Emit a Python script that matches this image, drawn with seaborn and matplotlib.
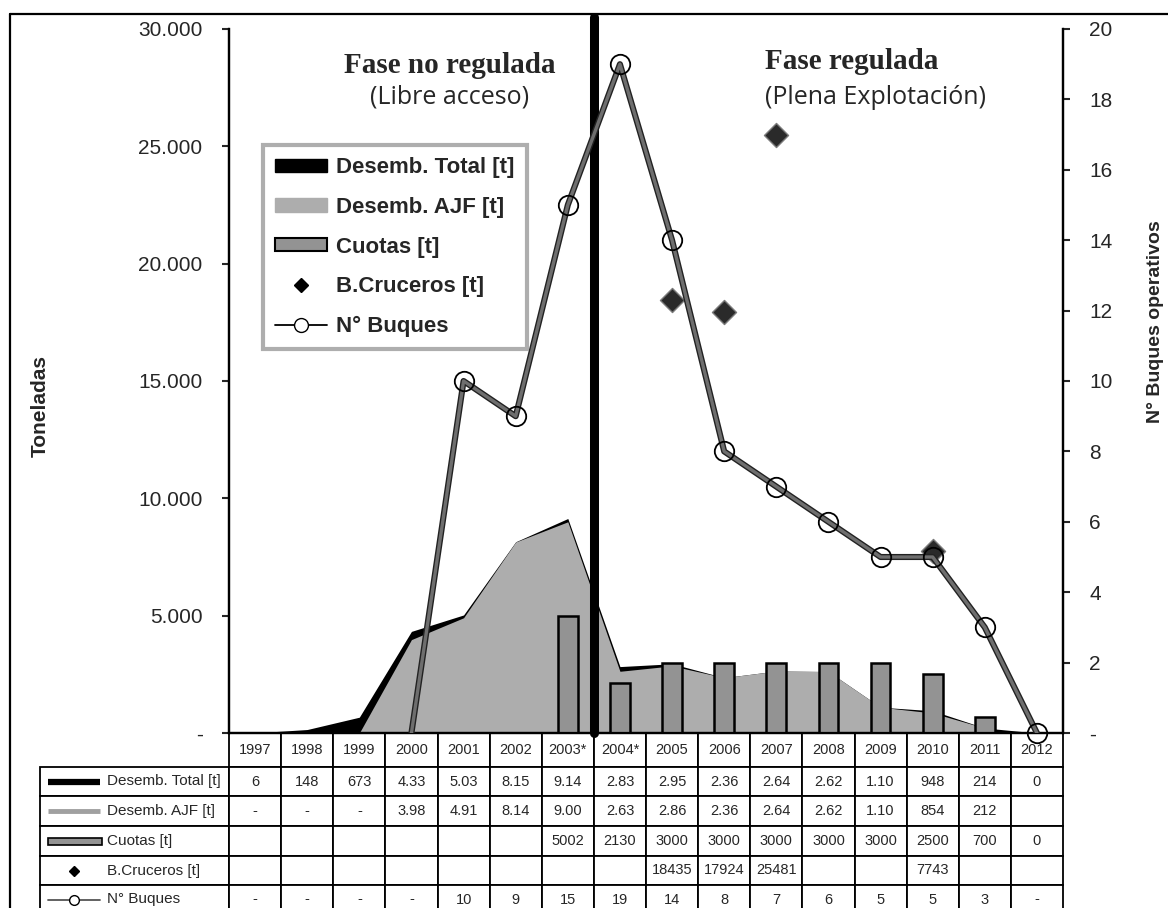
import numpy as np
import matplotlib
matplotlib.use("Agg")
import matplotlib.pyplot as plt
import seaborn as sns
from matplotlib.lines import Line2D
from matplotlib.patches import Patch, Rectangle

# ---------------------------------------------------------------- data
years = ["1997", "1998", "1999", "2000", "2001", "2002", "2003*", "2004*",
         "2005", "2006", "2007", "2008", "2009", "2010", "2011", "2012"]
desemb_total = [6, 148, 673, 4330, 5030, 8150, 9140, 2830,
                2950, 2360, 2640, 2620, 1100, 948, 214, 0]
desemb_ajf = [0, 0, 0, 3980, 4910, 8140, 9000, 2630,
              2860, 2360, 2640, 2620, 1100, 854, 212, np.nan]
cuotas = [np.nan] * 6 + [5002, 2130, 3000, 3000, 3000, 3000, 3000, 2500, 700, 0]
b_cruceros = [np.nan] * 8 + [18435, 17924, 25481, np.nan, np.nan, 7743, np.nan, np.nan]
n_buques = [np.nan, np.nan, np.nan, 0, 10, 9, 15, 19, 14, 8, 7, 6, 5, 5, 3, 0]

left_ticks = [0, 5000, 10000, 15000, 20000, 25000, 30000]
left_ticklabels = ["-", "5.000", "10.000", "15.000", "20.000", "25.000", "30.000"]
right_ticks = list(range(0, 21, 2))
right_ticklabels = ["-"] + [str(t) for t in right_ticks[1:]]

series_labels = ["Desemb. Total [t]", "Desemb. AJF [t]", "Cuotas [t]",
                 "B.Cruceros [t]", "N° Buques"]

# ---------------------------------------------------------------- style
sns.set_style("white")
plt.rcParams["font.family"] = ["Liberation Sans", "DejaVu Sans"]

W, H = 1168, 908
fig = plt.figure(figsize=(W / 100, H / 100), dpi=100)

AX_L, AX_R, AX_T, AX_B = 229, 1063, 29, 733
ax = fig.add_axes([AX_L / W, (H - AX_B) / H, (AX_R - AX_L) / W, (AX_B - AX_T) / H])
ax2 = ax.twinx()


def ax_x(px):
    return (px - AX_L) / (AX_R - AX_L)


def ax_y(py):
    return (AX_B - py) / (AX_B - AX_T)


x = np.arange(len(years))
AREA_GREY = "#adadad"
BAR_GREY = "#939393"

# landings as areas: total in black, AJF in grey in front of it
ax.fill_between(x, desemb_total, color="black", lw=0, zorder=1)
ax.fill_between(x, desemb_ajf, color=AREA_GREY, lw=0, zorder=2)

# quotas as narrow bars
sns.barplot(x=years, y=cuotas, order=years, ax=ax, width=0.38, color=BAR_GREY,
            saturation=1, edgecolor="black", linewidth=1.8, errorbar=None, zorder=3)

# acoustic-cruise biomass
sns.scatterplot(x=x, y=b_cruceros, ax=ax, marker="D", s=150, color="#2a2a2a",
                edgecolor="#7a7a7a", linewidth=1.0, zorder=5, legend=False)

# boundary between the unregulated and regulated phases
ax.axvline(6.5, ymin=0, ymax=ax_y(17), color="black", lw=6.5, clip_on=False, zorder=4)

# number of operating vessels (right axis)
nb = np.array(n_buques, dtype=float)
first = int(np.where(~np.isnan(nb))[0][0])
mark_idx = list(range(first + 1, len(nb)))
ax2.plot(x, nb, color="#222222", lw=4.4, solid_capstyle="round", zorder=6)
ax2.plot(x, nb, color="#6e6e6e", lw=2.4, solid_capstyle="round", zorder=7)
ax2.plot(x, nb, ls="none", marker="o", ms=14, mfc="none", mec="black", mew=1.3,
         markevery=mark_idx, zorder=8, clip_on=False)

# ---------------------------------------------------------------- axes
ax.set_xlim(-0.5, len(years) - 0.5)
ax.set_ylim(0, 30000)
ax2.set_ylim(0, 20)
ax.set_xticks([])
ax.set_xlabel("")
ax.set_ylabel("")
ax.set_yticks(left_ticks)
ax.set_yticklabels(left_ticklabels, fontsize=15)
ax2.set_yticks(right_ticks)
ax2.set_yticklabels(right_ticklabels, fontsize=15)
ax.tick_params(axis="y", direction="out", length=5, width=1.5, pad=14, left=True)
ax2.tick_params(axis="y", direction="out", length=5, width=1.5, pad=14, right=True)
for a in (ax, ax2):
    a.spines["top"].set_visible(False)
    for s in ("left", "right", "bottom"):
        a.spines[s].set_linewidth(1.6)
        a.spines[s].set_color("black")
    a.grid(False)

fig.text(40 / W, 1 - 406 / H, "Toneladas", rotation=90, ha="center", va="center",
         fontsize=15, fontweight="bold")
fig.text(1155 / W, 1 - 322 / H, "N° Buques operativos", rotation=90, ha="center",
         va="center", fontsize=14, fontweight="bold")

# phase headings
fig.text(450 / W, 1 - 73 / H, "Fase no regulada", ha="center", va="baseline",
         fontsize=21, fontweight="bold", family=["Liberation Serif", "DejaVu Serif"])
fig.text(450 / W, 1 - 104 / H, "(Libre acceso)", ha="center", va="baseline",
         fontsize=18, family=["Open Sans", "DejaVu Sans"])
fig.text(765 / W, 1 - 69 / H, "Fase regulada", ha="left", va="baseline",
         fontsize=21, fontweight="bold", family=["Liberation Serif", "DejaVu Serif"])
fig.text(765 / W, 1 - 104 / H, "(Plena Explotación)", ha="left", va="baseline",
         fontsize=18, family=["Open Sans", "DejaVu Sans"])

# ---------------------------------------------------------------- legend
handles = [
    Patch(facecolor="black", edgecolor="black"),
    Patch(facecolor=AREA_GREY, edgecolor=AREA_GREY),
    Patch(facecolor=BAR_GREY, edgecolor="black", linewidth=1.5),
    Line2D([], [], ls="none", marker="D", ms=7, color="black"),
    Line2D([], [], color="black", lw=1.3, marker="o", ms=10, mfc="white", mec="black"),
]
leg = ax2.legend(handles, series_labels, loc="upper left",
                 bbox_to_anchor=(263 / W, 1 - 145 / H), bbox_transform=fig.transFigure,
                 borderaxespad=0, prop={"weight": "bold", "size": 16},
                 handlelength=2.35, handleheight=0.55, handletextpad=0.4,
                 labelspacing=0.84, borderpad=0.55, frameon=True, fancybox=False)
leg.get_frame().set_edgecolor("#9a9a9a")
leg.get_frame().set_linewidth(3)
leg.set_zorder(20)

# ---------------------------------------------------------------- data table
def fmt_landing(v):
    if np.isnan(v):
        return ""
    if v == 0:
        return "0"
    s = f"{int(v):,}".replace(",", ".")
    return s[:4]


def fmt_ajf(v):
    if np.isnan(v):
        return ""
    if v == 0:
        return "-"
    return fmt_landing(v)


def fmt_plain(v):
    return "" if np.isnan(v) else str(int(v))


def fmt_buques(v):
    return "-" if (np.isnan(v) or v == 0) else str(int(v))


rows = [
    [""] + years,
    [""] + [fmt_landing(float(v)) for v in desemb_total],
    [""] + [fmt_ajf(float(v)) for v in desemb_ajf],
    [""] + [fmt_plain(float(v)) for v in cuotas],
    [""] + [fmt_plain(float(v)) for v in b_cruceros],
    [""] + [fmt_buques(float(v)) for v in n_buques],
]
TBL_L = 40
label_w = AX_L - TBL_L
col_w = (AX_R - AX_L) / len(years)
tot_w = AX_R - TBL_L
row_px = [34, 29, 30, 30, 29, 29]
tbl_bottom = AX_B + sum(row_px)
table = ax.table(cellText=rows, cellLoc="center",
                 colWidths=[label_w / tot_w] + [col_w / tot_w] * len(years),
                 bbox=[ax_x(TBL_L), ax_y(tbl_bottom), tot_w / (AX_R - AX_L),
                       sum(row_px) / (AX_B - AX_T)])
table.auto_set_font_size(False)
table.set_fontsize(10.5)
for (r, c), cell in table.get_celld().items():
    cell.set_height(row_px[r])
    cell.set_linewidth(1.3)
    cell.set_edgecolor("black")
    cell.set_facecolor("white")
    if r == 0 and c == 0:
        cell.set_visible(False)

# row labels with their series keys
centers = []
top = AX_B + row_px[0]
for h in row_px[1:]:
    centers.append(top + h / 2)
    top += h
kx0, kx1, kmid = ax_x(48), ax_x(100), ax_x(74)
tx = ax_x(107)
for label, cy in zip(series_labels, centers):
    ax.text(tx, ax_y(cy), label, ha="left", va="center", fontsize=11,
            transform=ax.transAxes, clip_on=False, zorder=30)
yk = [ax_y(c) for c in centers]
ax.add_line(Line2D([kx0, kx1], [yk[0]] * 2, color="black", lw=4.5,
                   transform=ax.transAxes, clip_on=False, solid_capstyle="butt", zorder=30))
ax.add_line(Line2D([kx0, kx1], [yk[1]] * 2, color="#a0a0a0", lw=3.5,
                   transform=ax.transAxes, clip_on=False, solid_capstyle="butt", zorder=30))
key_h = ax_y(733) - ax_y(740)
ax.add_patch(Rectangle((kx0, yk[2] - key_h / 2), ax_x(102) - kx0, key_h,
                       transform=ax.transAxes, clip_on=False,
                       facecolor=BAR_GREY, edgecolor="black", lw=1.2, zorder=30))
ax.add_line(Line2D([kmid], [yk[3]], ls="none", marker="D", ms=5, color="black",
                   transform=ax.transAxes, clip_on=False, zorder=30))
ax.add_line(Line2D([kx0, kx1], [yk[4]] * 2, color="#555555", lw=1.3,
                   transform=ax.transAxes, clip_on=False, zorder=30))
ax.add_line(Line2D([kmid], [yk[4]], ls="none", marker="o", ms=7, mfc="white",
                   mec="black", transform=ax.transAxes, clip_on=False, zorder=31))

# outer frame
fig.add_artist(Line2D([10 / W, 1], [1 - 14 / H] * 2, color="black", lw=1.6))
fig.add_artist(Line2D([10 / W] * 2, [0, 1 - 14 / H], color="black", lw=1.6))

fig.savefig("out.png", dpi=100, facecolor="white")
